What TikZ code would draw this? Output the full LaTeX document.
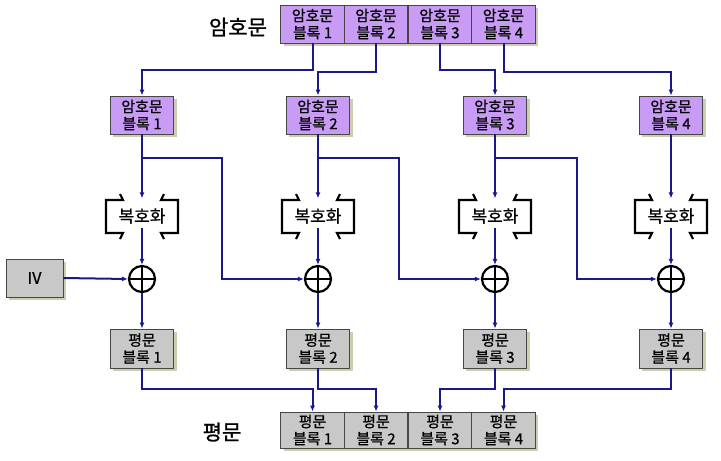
\documentclass[tikz,border=0pt]{standalone}
\usepackage{fontspec}
\newfontfamily\kr[FakeBold=0.8]{Noto Sans CJK KR}
\newfontfamily\krbig[FakeBold=1.2]{Noto Sans CJK KR}
\usetikzlibrary{arrows.meta,shadows}
\definecolor{navy}{RGB}{25,25,140}
\definecolor{lav}{RGB}{200,155,245}
\definecolor{gbox}{RGB}{200,200,200}
\definecolor{bord}{RGB}{70,70,70}
\definecolor{shad}{RGB}{205,205,175}
\begin{document}
\begin{tikzpicture}[x=1pt,y=-1pt,
  box/.style={draw=bord, line width=0.8pt, minimum width=63.5pt, minimum height=38pt,
    inner sep=0pt, align=center, font=\kr\fontsize{15}{17}\selectfont,
    drop shadow={shadow xshift=3pt,shadow yshift=-3pt,fill=shad,opacity=1}},
  cbox/.style={box, fill=lav},
  pbox/.style={box, fill=gbox},
  wire/.style={navy, line width=2pt},
  arr/.style={wire, -{Latex[length=6pt,width=5pt]}},
  xorc/.style={circle, draw=black, line width=2.2pt, minimum size=26pt, inner sep=0pt},
  brk/.style={black, line width=2.2pt, line join=miter},
  big/.style={font=\krbig\fontsize{21}{21}\selectfont},
  dectext/.style={font=\kr\fontsize{17}{17}\selectfont, inner sep=0pt}
]
\useasboundingbox (0,0) rectangle (721,461);

% top ciphertext row
\node[cbox] (t1) at (312.5,24) {암호문\\블록 1};
\node[cbox] (t2) at (376,24) {암호문\\블록 2};
\node[cbox] (t3) at (440,24) {암호문\\블록 3};
\node[cbox] (t4) at (503.5,24) {암호문\\블록 4};
\node[big] (lc) at (238,27) {암호문};

% columns
\foreach \i/\x in {1/142,2/318,3/495,4/671}{
  \node[cbox] (c\i) at (\x,115) {암호문\\블록 \i};
  \node[dectext] (d\i) at (\x,216) {복호화};
  \node[xorc] (x\i) at (\x,279) {};
  \node[pbox, minimum height=39pt] (p\i) at (\x,348.5) {평문\\블록 \i};
}

% bottom plaintext row
\node[pbox, minimum height=36pt] (b1) at (312.5,430) {평문\\블록 1};
\node[pbox, minimum height=36pt] (b2) at (376,430) {평문\\블록 2};
\node[pbox, minimum height=36pt] (b3) at (440,430) {평문\\블록 3};
\node[pbox, minimum height=36pt] (b4) at (503.5,430) {평문\\블록 4};
\node[big] (lp) at (222,432) {평문};

% IV
\node[pbox, minimum width=57pt, minimum height=38pt, font=\kr\fontsize{16}{16}\selectfont] (iv) at (34.5,278) {IV};

% brackets and xor crosses
\foreach \i in {1,...,4}{
  \begin{scope}[shift={(d\i.center)}]
    \draw[brk] (-22,-22) -- (-19,-16) -- (-36,-16) -- (-36,17) -- (-19,17) -- (-22,23);
    \draw[brk] (22,-22) -- (19,-16) -- (36,-16) -- (36,17) -- (19,17) -- (22,23);
  \end{scope}
  \draw[black, line width=2.2pt] (x\i.north) -- (x\i.south) (x\i.west) -- (x\i.east);
}

% top row to column boxes
\draw[arr] (t1.south) -- ++(0,27) -| (c1.north);
\draw[arr] (t2.south) -- ++(0,29) -| (c2.north);
\draw[arr] (t3.south) -- ++(0,27) -| (c3.north);
\draw[arr] (t4.south) -- ++(0,29) -| (c4.north);

% ciphertext to decrypt, decrypt to xor
\foreach \i in {1,...,4}{
  \draw[arr] (c\i.south) -- ++(0,64);
  \draw[arr] ([yshift=-12pt]d\i.center) -- (x\i.north);
  \draw[arr] (x\i.south) -- (p\i.north);
}

% chaining branches
\draw[arr] ([yshift=-24pt]c1.south) -| ([xshift=-82pt]x2.west) -- (x2.west);
\draw[arr] ([yshift=-24pt]c2.south) -| ([xshift=-82pt]x3.west) -- (x3.west);
\draw[arr] ([yshift=-24pt]c3.south) -| ([xshift=-80pt]x4.west) -- (x4.west);

% IV
\draw[arr] (iv.east) -- (x1.west);

% plaintext to bottom row
\draw[arr] (p1.south) -- ++(0,21) -| (b1.north);
\draw[arr] (p2.south) -- ++(0,21) -| (b2.north);
\draw[arr] (p3.south) -- ++(0,21) -| (b3.north);
\draw[arr] (p4.south) -- ++(0,21) -| (b4.north);
\end{tikzpicture}
\end{document}
